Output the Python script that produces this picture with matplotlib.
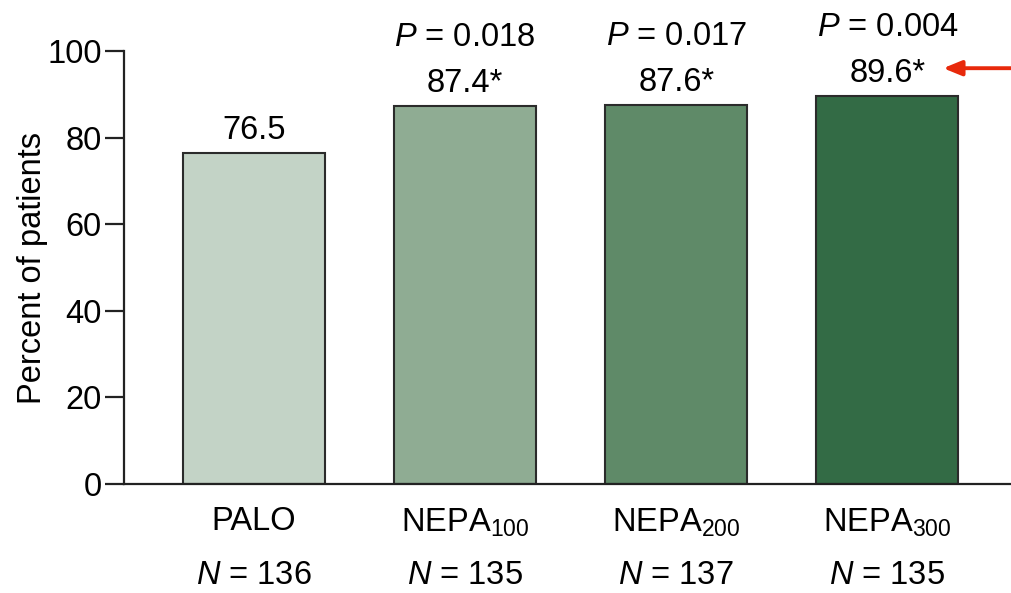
import matplotlib
matplotlib.use('Agg')
import matplotlib.pyplot as plt
import numpy as np

plt.rcParams['font.family'] = ['Liberation Sans', 'DejaVu Sans']
plt.rcParams['mathtext.fontset'] = 'custom'
plt.rcParams['mathtext.rm'] = 'Liberation Sans'
plt.rcParams['mathtext.it'] = 'Liberation Sans:italic'

# %% data
groups = ['PALO', 'NEPA$_{100}$', 'NEPA$_{200}$', 'NEPA$_{300}$']
n_patients = [136, 135, 137, 135]
percent = [76.5, 87.4, 87.6, 89.6]
value_labels = ['76.5', '87.4*', '87.6*', '89.6*']
p_values = [None, '0.018', '0.017', '0.004']
colors = ['#c3d3c6', '#8fac93', '#5f8a68', '#336b45']

fs = 23.5

# %% figure
fig = plt.figure(figsize=(10.12, 5.93), dpi=100)
ax = fig.add_axes([0.1225, 0.1838, 0.8775, 0.730])

x = np.arange(len(groups))
ax.bar(x, percent, width=0.673, color=colors, edgecolor='#2b2b2b',
       linewidth=1.5, zorder=2)

ax.set_xlim(-0.615, 3.59)
ax.set_ylim(0, 100)
ax.set_yticks([0, 20, 40, 60, 80, 100])
ax.tick_params(axis='y', direction='out', length=14, width=1.6,
               labelsize=fs, pad=2, color='#222222')
ax.set_xticks(x)
ax.set_xticklabels(groups)
ax.tick_params(axis='x', length=0, labelsize=fs, pad=16)
ax.set_ylabel('Percent of patients', fontsize=fs, labelpad=-0.5)

for side in ['top', 'right']:
    ax.spines[side].set_visible(False)
for side in ['left', 'bottom']:
    ax.spines[side].set_linewidth(1.6)
    ax.spines[side].set_color('#222222')

# value labels and P values above the bars
for i in range(len(groups)):
    ax.annotate(value_labels[i], xy=(x[i], percent[i]), xytext=(0, 10),
                textcoords='offset points', ha='center', va='baseline',
                fontsize=fs)
    if p_values[i] is not None:
        ax.annotate('$P$ = ' + p_values[i], xy=(x[i], percent[i]),
                    xytext=(0, 43), textcoords='offset points',
                    ha='center', va='baseline', fontsize=fs,
                    annotation_clip=False)

# sample sizes under the group names
for i in range(len(groups)):
    ax.annotate('$N$ = %d' % n_patients[i], xy=(x[i], 0),
                xycoords=('data', 'axes fraction'), xytext=(0, -66),
                textcoords='offset points', ha='center', va='center',
                fontsize=fs, annotation_clip=False)

# red arrow pointing at the highest value
ax.annotate('', xy=(0.932, 0.885), xycoords='figure fraction',
            xytext=(1.0, 0.885), textcoords='figure fraction',
            arrowprops=dict(arrowstyle='-|>,head_length=1.1,head_width=0.45',
                            color='#e8290b', lw=2.8, shrinkA=0, shrinkB=0))

fig.savefig('out.png', dpi=100)
